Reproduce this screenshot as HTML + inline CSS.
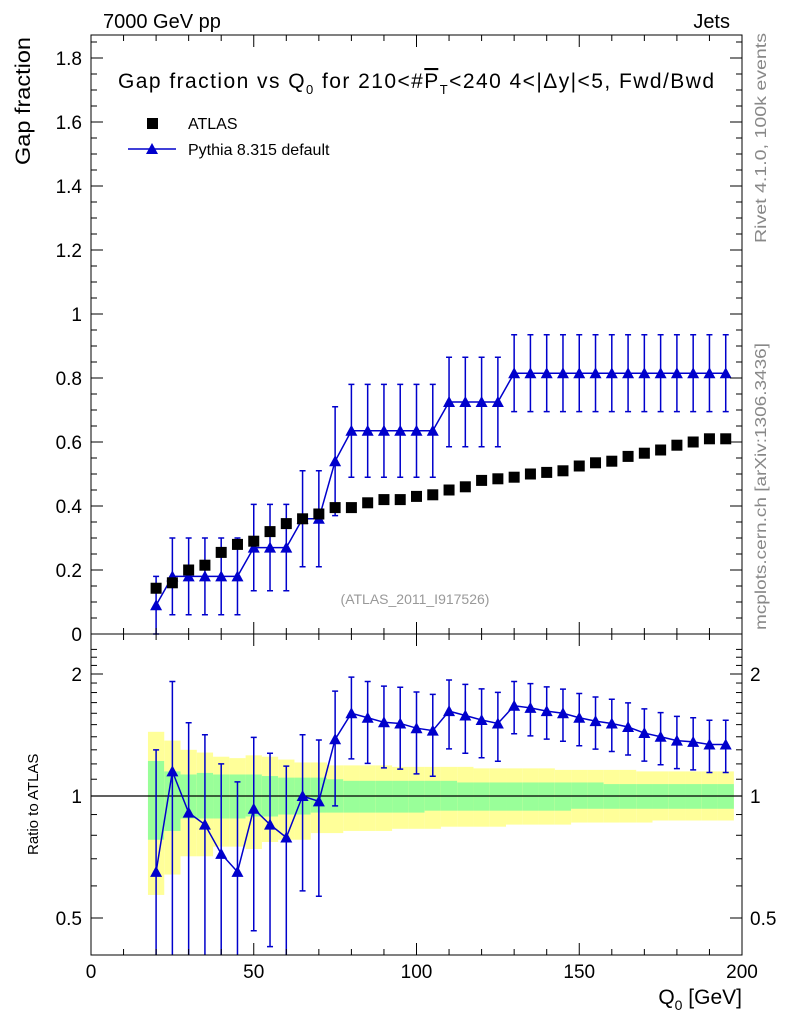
<!DOCTYPE html>
<html><head><meta charset="utf-8"><style>
body{margin:0;background:#fff;}
svg{display:block;font-family:"Liberation Sans",sans-serif;}
</style></head><body>
<svg id="chart" width="786" height="1024" viewBox="0 0 786 1024" xmlns="http://www.w3.org/2000/svg">
<rect x="0" y="0" width="786" height="1024" fill="#fff"/>
<g id="ratioBands"></g>
<g id="marks"></g>
<rect x="91" y="35" width="651" height="599" fill="none" stroke="#000" stroke-width="1"/>
<rect x="91" y="634" width="651" height="321" fill="none" stroke="#000" stroke-width="1"/>
<g id="axes"></g>
<text x="103" y="28" font-size="20">7000 GeV pp</text>
<text x="730" y="28" font-size="20" text-anchor="end">Jets</text>
<text x="118" y="88" font-size="21" textLength="596" lengthAdjust="spacing">Gap fraction vs Q<tspan font-size="13" dy="6">0</tspan><tspan dy="-6"> for 210&lt;#</tspan><tspan text-decoration="overline">P</tspan><tspan font-size="13" dy="6">T</tspan><tspan dy="-6">&lt;240  4&lt;|Δy|&lt;5, Fwd/Bwd</tspan></text>
<text transform="translate(30,165) rotate(-90)" font-size="21" textLength="128" lengthAdjust="spacingAndGlyphs">Gap fraction</text>
<text transform="translate(38,855) rotate(-90)" font-size="15">Ratio to ATLAS</text>
<text x="742" y="1004" font-size="21" text-anchor="end">Q<tspan font-size="14" dy="6">0</tspan><tspan dy="-6"> [GeV]</tspan></text>
<text transform="translate(766,243) rotate(-90)" font-size="16" fill="#888" textLength="210" lengthAdjust="spacingAndGlyphs">Rivet 4.1.0,  100k events</text>
<text transform="translate(766,630) rotate(-90)" font-size="16" fill="#888" textLength="287" lengthAdjust="spacingAndGlyphs">mcplots.cern.ch [arXiv:1306.3436]</text>
<text x="415" y="604" font-size="14" fill="#999" text-anchor="middle">(ATLAS_2011_I917526)</text>
<g>
<rect x="147" y="118" width="11" height="11" fill="#000"/>
<text x="188" y="129" font-size="16">ATLAS</text>
<line x1="128" y1="149" x2="176" y2="149" stroke="#0000cc" stroke-width="1.5"/>
<polygon points="152,143 158,154 146,154" fill="#0000cc"/>
<text x="188" y="155" font-size="16">Pythia 8.315 default</text>
</g>
</svg>
<script>
const xs=[20,25,30,35,40,45,50,55,60,65,70,75,80,85,90,95,100,105,110,115,120,125,130,135,140,145,150,155,160,165,170,175,180,185,190,195];
const atlas=[0.143,0.16,0.2,0.215,0.255,0.28,0.29,0.32,0.345,0.36,0.375,0.395,0.395,0.41,0.42,0.42,0.43,0.435,0.45,0.46,0.48,0.485,0.49,0.5,0.505,0.51,0.525,0.535,0.54,0.555,0.565,0.575,0.59,0.6,0.61,0.61];
const pythia=[0.09,0.18,0.18,0.18,0.18,0.18,0.27,0.27,0.27,0.36,0.36,0.54,0.635,0.635,0.635,0.635,0.635,0.635,0.725,0.725,0.725,0.725,0.815,0.815,0.815,0.815,0.815,0.815,0.815,0.815,0.815,0.815,0.815,0.815,0.815,0.815];
const pythiaErr=[0.09,0.12,0.12,0.12,0.12,0.12,0.135,0.135,0.135,0.15,0.15,0.17,0.145,0.145,0.145,0.145,0.145,0.145,0.14,0.14,0.14,0.14,0.12,0.12,0.12,0.12,0.12,0.12,0.12,0.12,0.12,0.12,0.12,0.12,0.12,0.12];
const ratio=[0.65,1.15,0.91,0.85,0.72,0.65,0.93,0.85,0.79,1.0,0.97,1.38,1.6,1.56,1.52,1.51,1.47,1.45,1.62,1.58,1.54,1.51,1.67,1.65,1.62,1.6,1.56,1.53,1.51,1.48,1.43,1.4,1.37,1.36,1.34,1.34];
const yellowHi=[1.44,1.37,1.30,1.28,1.25,1.24,1.26,1.25,1.23,1.21,1.21,1.19,1.19,1.19,1.19,1.18,1.18,1.18,1.18,1.18,1.17,1.17,1.17,1.17,1.17,1.16,1.16,1.16,1.16,1.16,1.15,1.15,1.15,1.15,1.15,1.15];
const yellowLo=[0.57,0.64,0.71,0.71,0.75,0.75,0.74,0.77,0.78,0.78,0.81,0.81,0.82,0.82,0.82,0.83,0.83,0.83,0.84,0.84,0.84,0.84,0.85,0.85,0.85,0.85,0.86,0.86,0.86,0.86,0.86,0.87,0.87,0.87,0.87,0.87];
const greenHi=[1.22,1.15,1.13,1.14,1.13,1.13,1.13,1.12,1.11,1.11,1.11,1.10,1.09,1.09,1.09,1.09,1.09,1.09,1.09,1.08,1.08,1.08,1.08,1.08,1.08,1.08,1.08,1.08,1.07,1.07,1.07,1.07,1.07,1.07,1.07,1.07];
const greenLo=[0.78,0.82,0.88,0.88,0.88,0.88,0.89,0.89,0.90,0.90,0.91,0.91,0.91,0.91,0.91,0.91,0.91,0.92,0.92,0.92,0.92,0.92,0.92,0.92,0.92,0.92,0.93,0.93,0.93,0.93,0.93,0.93,0.93,0.93,0.93,0.93];
const xTicks=[0,50,100,150,200];
const yTicks=[0,0.2,0.4,0.6,0.8,1,1.2,1.4,1.6,1.8];
const rTicks=[0.5,1,2];

const NS='http://www.w3.org/2000/svg';
const X=v=>91+v*651/200;
const Y=v=>634-v*320;
const R=v=>796-Math.log2(v)*122;
const clampR=y=>Math.max(634,Math.min(955,y));
function mk(tag,attrs,parent){const e=document.createElementNS(NS,tag);for(const k in attrs)e.setAttribute(k,attrs[k]);parent.appendChild(e);return e;}
const bands=document.getElementById('ratioBands');
const marks=document.getElementById('marks');
const axes=document.getElementById('axes');

xs.forEach((x,i)=>{
  const x0=X(x-2.5),w=X(x+2.5)-x0;
  let r=mk('rect',{x:x0,y:R(yellowHi[i]),width:w,height:R(yellowLo[i])-R(yellowHi[i]),fill:'#ffff99'},bands);
  
  
  r=mk('rect',{x:x0,y:R(greenHi[i]),width:w,height:R(greenLo[i])-R(greenHi[i]),fill:'#99ff99'},bands);
  
  
});
mk('line',{x1:91,y1:R(1),x2:742,y2:R(1),stroke:'#000','stroke-width':1.3},bands);

const blue='#0000cc';
let pts=xs.map((x,i)=>X(x)+','+Y(pythia[i])).join(' ');
let pl=mk('polyline',{points:pts,fill:'none',stroke:blue,'stroke-width':1.5},marks);


xs.forEach((x,i)=>{
  const cx=X(x),t=Math.max(35,Y(pythia[i]+pythiaErr[i])),b=Math.min(634,Y(pythia[i]-pythiaErr[i]));
  let e=mk('path',{d:`M${cx},${t}V${b}M${cx-3},${t}H${cx+3}M${cx-3},${b}H${cx+3}`,stroke:blue,'stroke-width':1.5,fill:'none'},marks);
  
  
  const cy=Y(pythia[i]);
  let p=mk('polygon',{points:`${cx},${cy-6} ${cx+6},${cy+5} ${cx-6},${cy+5}`,fill:blue},marks);
  
  
  const ay=Y(atlas[i]);
  let s=mk('rect',{x:cx-5.5,y:ay-5.5,width:11,height:11,fill:'#000'},marks);
  
  
});
pts=xs.map((x,i)=>X(x)+','+R(ratio[i])).join(' ');
pl=mk('polyline',{points:pts,fill:'none',stroke:blue,'stroke-width':1.5},marks);


xs.forEach((x,i)=>{
  const cx=X(x),f=pythiaErr[i]/pythia[i];
  const t=clampR(R(ratio[i]*(1+f)));
  const lo=ratio[i]*(1-f);
  const b=lo>0?clampR(R(lo)):955;
  let e=mk('path',{d:`M${cx},${t}V${b}M${cx-3},${t}H${cx+3}`+(b<955?`M${cx-3},${b}H${cx+3}`:''),stroke:blue,'stroke-width':1.5,fill:'none'},marks);
  
  
  const cy=R(ratio[i]);
  let p=mk('polygon',{points:`${cx},${cy-6} ${cx+6},${cy+5} ${cx-6},${cy+5}`,fill:blue},marks);
  
  
});
const tk={stroke:'#000','stroke-width':1};
for(let v=0;v<=200;v+=10){
  const x=X(v),L=(v%50===0)?12:6;
  mk('line',Object.assign({x1:x,y1:634,x2:x,y2:634-L},tk),axes);
  mk('line',Object.assign({x1:x,y1:35,x2:x,y2:35+L},tk),axes);
  mk('line',Object.assign({x1:x,y1:955,x2:x,y2:955-L},tk),axes);
  mk('line',Object.assign({x1:x,y1:634,x2:x,y2:634+L},tk),axes);
}
xTicks.forEach(v=>{
  const t=mk('text',{x:X(v),y:978,'font-size':19,'text-anchor':'middle'},axes);
  t.textContent=v;
  
  
});
for(let v=0;v<=1.86;v+=0.05){
  const y=Y(v),major=Math.abs(v*5-Math.round(v*5))<1e-6,L=major?12:6;
  mk('line',Object.assign({x1:91,y1:y,x2:91+L,y2:y},tk),axes);
  mk('line',Object.assign({x1:742,y1:y,x2:742-L,y2:y},tk),axes);
}
yTicks.forEach(v=>{
  const t=mk('text',{x:82,y:Y(v)+7,'font-size':19,'text-anchor':'end'},axes);
  t.textContent=String(+v.toFixed(1));
  
  
});
for(let v=0.4;v<=2.31;v+=0.1){
  const y=R(v);if(y<634||y>955)continue;
  const major=rTicks.some(m=>Math.abs(m-v)<1e-6),L=major?12:6;
  mk('line',Object.assign({x1:91,y1:y,x2:91+L,y2:y},tk),axes);
  mk('line',Object.assign({x1:742,y1:y,x2:742-L,y2:y},tk),axes);
}
rTicks.forEach(v=>{
  let t=mk('text',{x:82,y:R(v)+7,'font-size':19,'text-anchor':'end'},axes);
  t.textContent=v;
  
  
  t=mk('text',{x:750,y:R(v)+7,'font-size':19},axes);
  t.textContent=v;
  
  
});
</script>
</body></html>
